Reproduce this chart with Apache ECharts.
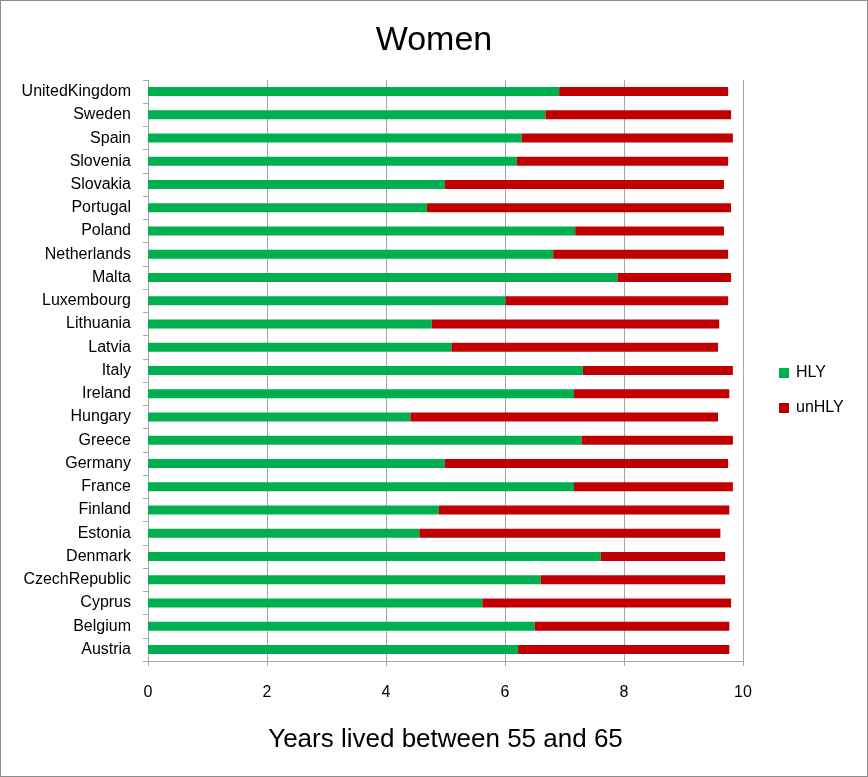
<!DOCTYPE html>
<html>
<head>
<meta charset="utf-8">
<script src="https://cdn.jsdelivr.net/npm/echarts@6/dist/echarts.min.js"></script>
<style>
  html, body { margin: 0; padding: 0; background: #fff; }
  #frame { position: absolute; left: 0; top: 0; width: 866px; height: 775px; border: 1px solid #8c8c8c; }
  #chart { width: 868px; height: 777px; position: absolute; left: 0; top: 0; }
</style>
</head>
<body>
<div id="frame"></div>
<div id="chart"></div>
<script>
// Countries, listed bottom-to-top along the category axis
const countries = [
  'Austria', 'Belgium', 'Cyprus', 'CzechRepublic', 'Denmark', 'Estonia', 'Finland',
  'France', 'Germany', 'Greece', 'Hungary', 'Ireland', 'Italy', 'Latvia', 'Lithuania',
  'Luxembourg', 'Malta', 'Netherlands', 'Poland', 'Portugal', 'Slovakia', 'Slovenia',
  'Spain', 'Sweden', 'UnitedKingdom'
];

// Healthy life years between 55 and 65
const hly = [
  6.22, 6.50, 5.62, 6.60, 7.61, 4.56, 4.89,
  7.16, 4.99, 7.29, 4.41, 7.16, 7.31, 5.10, 4.77,
  6.01, 7.89, 6.81, 7.18, 4.69, 4.99, 6.20,
  6.28, 6.68, 6.91
];

// Years lived in poor health between 55 and 65
const unhly = [
  3.55, 3.27, 4.18, 3.10, 2.09, 5.06, 4.88,
  2.67, 4.76, 2.54, 5.17, 2.61, 2.52, 4.48, 4.83,
  3.74, 1.91, 2.94, 2.50, 5.11, 4.69, 3.55,
  3.55, 3.12, 2.84
];

const xTicks = [0, 2, 4, 6, 8, 10];

const font = '"Liberation Sans", Arial, sans-serif';
const grey = '#a6a6a6';

const chart = echarts.init(document.getElementById('chart'));
chart.setOption({
  animation: false,
  backgroundColor: 'transparent',
  title: {
    text: 'Women',
    left: 'center',
    top: 19,
    textStyle: { fontFamily: font, fontSize: 34, fontWeight: 'normal', color: '#000' }
  },
  legend: {
    orient: 'vertical',
    left: 779,
    top: 365,
    padding: 0,
    itemWidth: 10,
    itemHeight: 10,
    itemGap: 19,
    icon: 'rect',
    textStyle: { fontFamily: font, fontSize: 16, color: '#000', padding: [0, 0, 0, 2] },
    data: ['HLY', 'unHLY']
  },
  grid: { left: 148, right: 125, top: 80, bottom: 116 },
  xAxis: {
    type: 'value',
    min: xTicks[0],
    max: xTicks[xTicks.length - 1],
    interval: 2,
    name: 'Years lived between 55 and 65',
    nameLocation: 'middle',
    nameGap: 66,
    nameTextStyle: { fontFamily: font, fontSize: 26, color: '#000' },
    axisLine: { show: true, lineStyle: { color: grey, width: 1 } },
    axisTick: { show: true, length: 5, lineStyle: { color: grey } },
    axisLabel: { fontFamily: font, fontSize: 16, color: '#000', margin: 24 },
    splitLine: { show: true, lineStyle: { color: grey, width: 1 } }
  },
  yAxis: {
    type: 'category',
    data: countries,
    axisLine: { show: true, lineStyle: { color: grey, width: 1 } },
    axisTick: { show: true, length: 5, lineStyle: { color: grey } },
    axisLabel: { fontFamily: font, fontSize: 16, color: '#000', margin: 17 },
    splitLine: { show: false }
  },
  series: [
    {
      name: 'HLY', type: 'bar', stack: 'years', data: hly,
      barWidth: 9, itemStyle: { color: '#00B050' }
    },
    {
      name: 'unHLY', type: 'bar', stack: 'years', data: unhly,
      barWidth: 9, itemStyle: { color: '#C00000' }
    }
  ]
});
</script>
</body>
</html>
